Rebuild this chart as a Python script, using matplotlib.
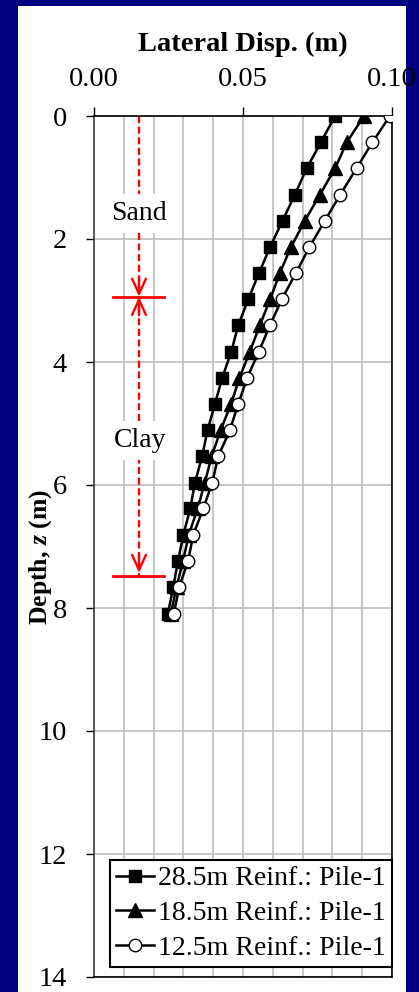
import matplotlib
matplotlib.use("Agg")
import matplotlib.pyplot as plt
from matplotlib.patches import Rectangle

plt.rcParams['font.family'] = ['Liberation Serif', 'DejaVu Serif']
plt.rcParams['mathtext.fontset'] = 'custom'
plt.rcParams['mathtext.it'] = 'Liberation Serif:italic:bold'
plt.rcParams['mathtext.rm'] = 'Liberation Serif:bold'

# depth of the output points (m)
depth = [0.00, 0.43, 0.85, 1.28, 1.70, 2.13, 2.55, 2.98, 3.40, 3.83,
         4.26, 4.68, 5.11, 5.53, 5.96, 6.38, 6.81, 7.23, 7.66, 8.09]

# lateral displacement (m)
disp_285 = [0.0809, 0.0761, 0.0714, 0.0674, 0.0633, 0.0591, 0.0554, 0.0518, 0.0484, 0.0461,
            0.0430, 0.0406, 0.0381, 0.0363, 0.0339, 0.0323, 0.0300, 0.0282, 0.0266, 0.0248]
disp_185 = [0.0906, 0.0848, 0.0809, 0.0758, 0.0708, 0.0661, 0.0624, 0.0591, 0.0557, 0.0523,
            0.0488, 0.0460, 0.0425, 0.0395, 0.0372, 0.0348, 0.0318, 0.0299, 0.0277, 0.0258]
disp_125 = [0.0993, 0.0934, 0.0881, 0.0826, 0.0775, 0.0723, 0.0678, 0.0630, 0.0591, 0.0553,
            0.0514, 0.0484, 0.0456, 0.0417, 0.0397, 0.0367, 0.0333, 0.0316, 0.0286, 0.0268]

labels = ['28.5m Reinf.: Pile-1', '18.5m Reinf.: Pile-1', '12.5m Reinf.: Pile-1']

xticks = [0.0, 0.05, 0.10]
xticklabels = ['0.00', '0.05', '0.10']
yticks = [0, 2, 4, 6, 8, 10, 12, 14]

# soil layers
layer_x = 0.0151
sand_bottom = 2.94
clay_bottom = 7.48

fig = plt.figure(figsize=(4.19, 9.92), dpi=100, facecolor='#000080')
fig.patches.append(Rectangle((18 / 419, 0), 388 / 419, 986 / 992, transform=fig.transFigure,
                             facecolor='white', edgecolor='none', zorder=-10))

ax = fig.add_axes([94 / 419, 1 - 977 / 992, 298 / 419, 861 / 992])

ax.plot(disp_285, depth, '-s', color='black', lw=1.8, ms=9, label=labels[0], zorder=4)
ax.plot(disp_185, depth, '-^', color='black', lw=1.8, ms=9.5, label=labels[1], zorder=4)
ax.plot(disp_125, depth, '-o', color='black', lw=1.8, ms=9, mfc='white', mec='black',
        mew=1.0, label=labels[2], zorder=4)

ax.set_xlim(0, 0.1)
ax.set_ylim(14, 0)
ax.xaxis.tick_top()
ax.xaxis.set_label_position('top')
ax.set_xticks(xticks)
ax.set_xticklabels(xticklabels)
ax.set_xticks([i / 100 for i in range(11)], minor=True)
ax.set_yticks(yticks)
ax.tick_params(axis='x', which='major', direction='out', length=6.5, width=1, pad=11, labelsize=20.5)
ax.tick_params(axis='y', which='major', direction='out', length=6, width=1, pad=13.5, labelsize=20.5)
ax.tick_params(axis='x', which='minor', length=0)
ax.grid(True, which='both', axis='x', color='#bdbdbd', lw=1.2, zorder=0)
ax.grid(True, which='major', axis='y', color='#bdbdbd', lw=1.2, zorder=0)
ax.set_axisbelow(True)
for s in ax.spines.values():
    s.set_color('black')
    s.set_linewidth(1.2)
ax.spines['left'].set_color('#404040')

ax.set_xlabel('Lateral Disp. (m)', fontsize=20.5, fontweight='bold', labelpad=11)
fig.text(41 / 419, 1 - 557 / 992, r'Depth, $z$ (m)', rotation=90, ha='center', va='center',
         fontsize=18.5, fontweight='bold')

# sand / clay markers
red = '#ff0000'
ax.plot([layer_x, layer_x], [0, sand_bottom], color=red, lw=1.7, ls=(0, (3, 1.5)), zorder=2)
ax.plot([layer_x, layer_x], [sand_bottom, clay_bottom], color=red, lw=1.7, ls=(0, (3, 1.5)), zorder=2)
head = dict(arrowstyle='->,head_length=1.1,head_width=0.5', color=red, lw=1.7,
            shrinkA=0, shrinkB=0)
ax.annotate('', xy=(layer_x, sand_bottom), xytext=(layer_x, sand_bottom - 0.3), arrowprops=head, zorder=3)
ax.annotate('', xy=(layer_x, sand_bottom), xytext=(layer_x, sand_bottom + 0.3), arrowprops=head, zorder=3)
ax.annotate('', xy=(layer_x, clay_bottom - 0.05), xytext=(layer_x, clay_bottom - 0.35), arrowprops=head, zorder=3)
ax.plot([0.0064, 0.0235], [sand_bottom, sand_bottom], color=red, lw=2, zorder=3)
ax.plot([0.0064, 0.0235], [clay_bottom, clay_bottom], color=red, lw=2, zorder=3)

box = dict(facecolor='white', edgecolor='none', pad=5)
ax.text(layer_x, 1.58, 'Sand', ha='center', va='center', fontsize=20, bbox=box, zorder=3)
ax.text(layer_x + 0.0005, 5.27, 'Clay', ha='center', va='center', fontsize=20, bbox=box, zorder=3)

leg = ax.legend(loc='lower right', bbox_to_anchor=(1.0, 0.012), borderaxespad=0, fontsize=20,
                handlelength=1.37, handletextpad=0.15, labelspacing=0.33, borderpad=0.22,
                fancybox=False, framealpha=1, edgecolor='black')
leg.get_frame().set_linewidth(1.5)

fig.savefig('out.png', dpi=100)
